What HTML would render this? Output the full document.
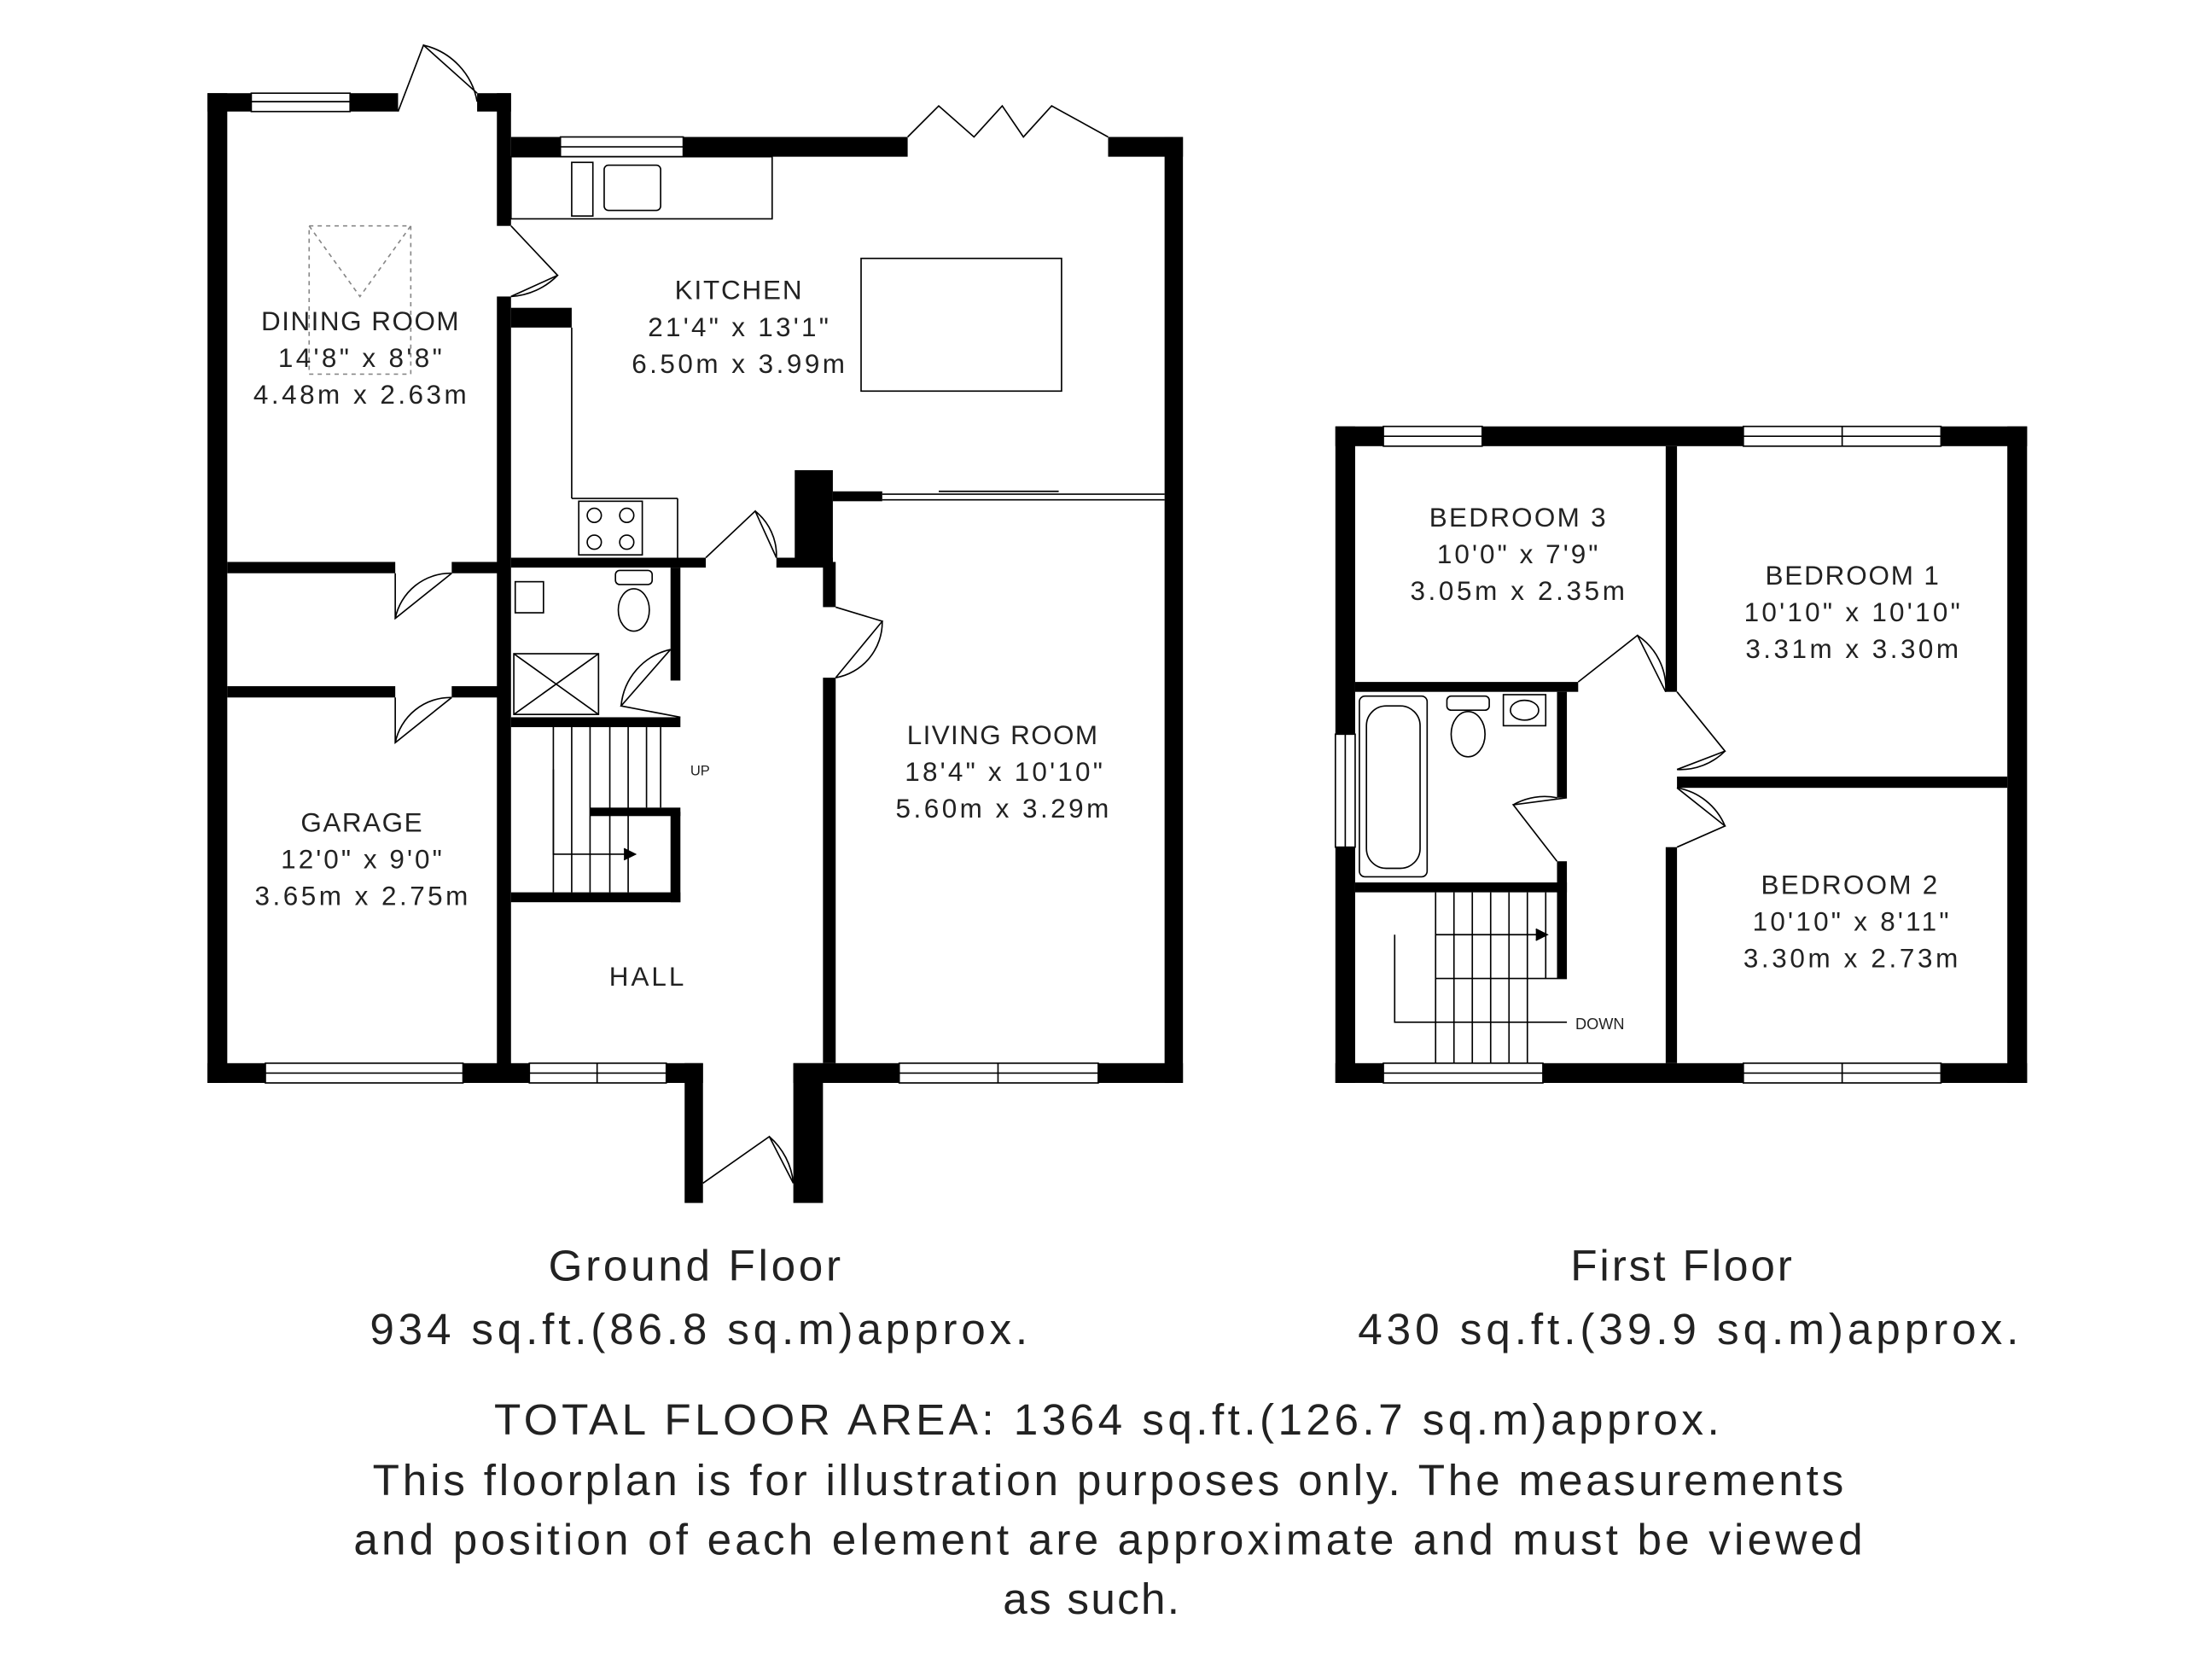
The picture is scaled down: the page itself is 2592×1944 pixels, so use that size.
<!DOCTYPE html>
<html><head><meta charset="utf-8"><style>
html,body{margin:0;padding:0;background:#fff;}
svg{display:block;}
text{font-family:"Liberation Sans",sans-serif;fill:#222;}
</style></head><body>
<svg width="2592" height="1944" viewBox="0 0 1567 1175" preserveAspectRatio="none" xmlns="http://www.w3.org/2000/svg">
<rect width="1567" height="1175" fill="#fff"/>
<g fill="#000">
<rect x="147" y="66" width="14" height="701"/>
<rect x="147" y="66" width="31" height="13"/>
<rect x="248" y="66" width="34" height="13"/>
<rect x="338" y="66" width="24" height="13"/>
<rect x="352" y="66" width="10" height="94"/>
<rect x="352" y="210" width="10" height="545"/>
<rect x="362" y="97" width="35" height="14"/>
<rect x="484" y="97" width="159" height="14"/>
<rect x="785" y="97" width="53" height="14"/>
<rect x="825" y="97" width="13" height="670"/>
<rect x="362" y="218" width="43" height="14"/>
<rect x="563" y="333" width="27" height="65"/>
<rect x="590" y="348" width="35" height="7"/>
<rect x="161" y="398" width="119" height="8"/>
<rect x="320" y="398" width="35" height="8"/>
<rect x="161" y="486" width="119" height="8"/>
<rect x="320" y="486" width="35" height="8"/>
<rect x="362" y="395" width="138" height="7"/>
<rect x="550" y="395" width="40" height="7"/>
<rect x="475" y="402" width="7" height="80"/>
<rect x="362" y="508" width="120" height="7"/>
<rect x="362" y="632" width="120" height="7"/>
<rect x="475" y="575" width="7" height="64"/>
<rect x="418" y="572" width="64" height="6"/>
<rect x="583" y="398" width="9" height="32"/>
<rect x="583" y="480" width="9" height="273"/>
<rect x="147" y="753" width="41" height="14"/>
<rect x="328" y="753" width="47" height="14"/>
<rect x="472" y="753" width="26" height="14"/>
<rect x="485" y="753" width="13" height="99"/>
<rect x="562" y="753" width="21" height="99"/>
<rect x="562" y="753" width="75" height="14"/>
<rect x="778" y="753" width="60" height="14"/>
<rect x="946" y="302" width="34" height="14"/>
<rect x="1050" y="302" width="185" height="14"/>
<rect x="1375" y="302" width="61" height="14"/>
<rect x="946" y="302" width="14" height="218"/>
<rect x="946" y="600" width="14" height="167"/>
<rect x="1422" y="302" width="14" height="465"/>
<rect x="946" y="753" width="34" height="14"/>
<rect x="1093" y="753" width="142" height="14"/>
<rect x="1375" y="753" width="61" height="14"/>
<rect x="1180" y="316" width="8" height="174"/>
<rect x="1180" y="600" width="8" height="153"/>
<rect x="1188" y="550" width="234" height="8"/>
<rect x="960" y="483" width="158" height="7"/>
<rect x="1103" y="490" width="7" height="75"/>
<rect x="1103" y="610" width="7" height="83"/>
<rect x="960" y="625" width="150" height="7"/>
</g>
<g fill="none" stroke="#000" stroke-width="1">
<rect x="178" y="66" width="70" height="13"/><line x1="178" y1="72" x2="248" y2="72"/>
<rect x="397" y="97" width="87" height="14"/><line x1="397" y1="104" x2="484" y2="104"/>
<rect x="188" y="753" width="140" height="14"/><line x1="188" y1="760" x2="328" y2="760"/>
<rect x="375" y="753" width="97" height="14"/><line x1="375" y1="760" x2="472" y2="760"/><line x1="423" y1="753" x2="423" y2="767"/>
<rect x="637" y="753" width="141" height="14"/><line x1="637" y1="760" x2="778" y2="760"/><line x1="707" y1="753" x2="707" y2="767"/>
<rect x="980" y="302" width="70" height="14"/><line x1="980" y1="309" x2="1050" y2="309"/>
<rect x="1235" y="302" width="140" height="14"/><line x1="1235" y1="309" x2="1375" y2="309"/><line x1="1305" y1="302" x2="1305" y2="316"/>
<rect x="980" y="753" width="113" height="14"/><line x1="980" y1="760" x2="1093" y2="760"/>
<rect x="1235" y="753" width="140" height="14"/><line x1="1235" y1="760" x2="1375" y2="760"/><line x1="1305" y1="753" x2="1305" y2="767"/>
<rect x="946" y="520" width="14" height="80"/><line x1="953" y1="520" x2="953" y2="600"/>
<line x1="625" y1="350" x2="825" y2="350"/><line x1="625" y1="354" x2="825" y2="354"/>
<line x1="665" y1="348" x2="750" y2="348"/>
<path d="M282 79 L300 32 L338 66"/><path d="M300 32 A50 50 0 0 1 338 72"/>
<path d="M362 160 L395 195 L362 210"/><path d="M395 195 A50 50 0 0 1 362 210"/>
<path d="M643 97 L665 75 L690 97 L710 75 L725 97 L745 75 L785 97"/>
<path d="M280 406 L280 438 L320 406"/><path d="M280 438 A40 40 0 0 1 320 406"/>
<path d="M280 494 L280 526 L320 494"/><path d="M280 526 A40 40 0 0 1 320 494"/>
<path d="M500 395 L535 362 L550 395"/><path d="M535 362 A40 40 0 0 1 550 395"/>
<path d="M475 460 L440 500 L482 508"/><path d="M440 500 A45 45 0 0 1 475 460"/>
<path d="M592 430 L625 440 L592 480"/><path d="M625 440 A40 40 0 0 1 592 480"/>
<path d="M498 838 L545 805 L562 838"/><path d="M545 805 A50 50 0 0 1 562 838"/>
<path d="M1118 483 L1160 450 L1180 490"/><path d="M1160 450 A45 45 0 0 1 1180 490"/>
<path d="M1188 490 L1222 532 L1188 545"/><path d="M1222 532 A45 45 0 0 1 1188 545"/>
<path d="M1188 600 L1222 585 L1188 558"/><path d="M1222 585 A45 45 0 0 0 1188 558"/>
<path d="M1110 565 L1072 570 L1103 610"/><path d="M1072 570 A45 45 0 0 1 1103 565"/>
<rect x="362" y="111" width="185" height="44"/>
<rect x="405" y="115" width="15" height="38"/>
<rect x="428" y="117" width="40" height="32" rx="3"/>
<line x1="405" y1="232" x2="405" y2="353"/><line x1="405" y1="353" x2="480" y2="353"/><line x1="480" y1="353" x2="480" y2="395"/>
<rect x="410" y="355" width="45" height="38"/>
<circle cx="421" cy="365" r="5"/><circle cx="444" cy="365" r="5"/><circle cx="421" cy="384" r="5"/><circle cx="444" cy="384" r="5"/>
<rect x="610" y="183" width="142" height="94"/>
<rect x="219" y="160" width="72" height="105" stroke-dasharray="3,3" stroke="#888"/>
<path d="M219 160 L255 210 L291 160" stroke="#888" stroke-dasharray="3,3"/>
<rect x="365" y="412" width="20" height="22"/>
<ellipse cx="449" cy="432" rx="11" ry="15"/><rect x="436" y="404" width="26" height="10" rx="3"/>
<rect x="364" y="463" width="60" height="43"/><path d="M364 463 L424 506 M424 463 L364 506"/>
<line x1="392" y1="515" x2="392" y2="632"/><line x1="405" y1="515" x2="405" y2="632"/><line x1="418" y1="515" x2="418" y2="632"/>
<line x1="432" y1="515" x2="432" y2="632"/><line x1="445" y1="515" x2="445" y2="632"/><line x1="458" y1="515" x2="458" y2="572"/><line x1="468" y1="515" x2="468" y2="572"/>
<path d="M392 545 L392 605 L450 605"/><path d="M442 601 L450 605 L442 609" fill="#000"/>
<rect x="963" y="493" width="48" height="128" rx="4"/><rect x="968" y="500" width="38" height="115" rx="14"/>
<rect x="1025" y="493" width="30" height="10" rx="3"/><ellipse cx="1040" cy="520" rx="12" ry="16"/>
<rect x="1065" y="492" width="30" height="22"/><ellipse cx="1080" cy="503" rx="10" ry="7"/>
<line x1="1017" y1="632" x2="1017" y2="753"/><line x1="1030" y1="632" x2="1030" y2="753"/><line x1="1043" y1="632" x2="1043" y2="753"/>
<line x1="1056" y1="632" x2="1056" y2="753"/><line x1="1069" y1="632" x2="1069" y2="753"/><line x1="1082" y1="632" x2="1082" y2="753"/><line x1="1095" y1="632" x2="1095" y2="693"/>
<line x1="1017" y1="693" x2="1110" y2="693"/>
<path d="M988 662 L988 724 L1110 724"/><path d="M1017 662 L1095 662"/><path d="M1088 658 L1096 662 L1088 666" fill="#000"/>
</g>
<g font-size="19" text-anchor="middle" lengthAdjust="spacingAndGlyphs">
<text x="255" y="234" textLength="140">DINING ROOM</text><text x="255" y="260" textLength="116">14'8" x 8'8"</text><text x="255" y="286" textLength="151">4.48m x 2.63m</text>
<text x="523" y="212" textLength="90">KITCHEN</text><text x="523" y="238" textLength="128">21'4" x 13'1"</text><text x="523" y="264" textLength="151">6.50m x 3.99m</text>
<text x="256" y="589" textLength="86">GARAGE</text><text x="256" y="615" textLength="114">12'0" x 9'0"</text><text x="256" y="641" textLength="151">3.65m x 2.75m</text>
<text x="710" y="527" textLength="135">LIVING ROOM</text><text x="711" y="553" textLength="140">18'4" x 10'10"</text><text x="710" y="579" textLength="151">5.60m x 3.29m</text>
<text x="458" y="698" textLength="53">HALL</text>
<text x="1075" y="373" textLength="125">BEDROOM 3</text><text x="1075" y="399" textLength="114">10'0" x 7'9"</text><text x="1075" y="425" textLength="152">3.05m x 2.35m</text>
<text x="1312" y="414" textLength="123">BEDROOM 1</text><text x="1312" y="440" textLength="153">10'10" x 10'10"</text><text x="1312" y="466" textLength="151">3.31m x 3.30m</text>
<text x="1310" y="633" textLength="125">BEDROOM 2</text><text x="1311" y="659" textLength="139">10'10" x 8'11"</text><text x="1311" y="685" textLength="152">3.30m x 2.73m</text>
</g>
<text x="489" y="549" font-size="10">UP</text>
<text x="1116" y="729" font-size="11">DOWN</text>
<g font-size="31" text-anchor="middle" fill="#222">
<text x="492" y="907" textLength="207">Ground Floor</text><text x="495" y="952" textLength="466">934 sq.ft.(86.8 sq.m)approx.</text>
<text x="1191" y="907" textLength="157">First Floor</text><text x="1196" y="952" textLength="468">430 sq.ft.(39.9 sq.m)approx.</text>
<text x="784" y="1016" textLength="868">TOTAL FLOOR AREA: 1364 sq.ft.(126.7 sq.m)approx.</text>
<text x="785" y="1059" textLength="1042">This floorplan is for illustration purposes only. The measurements</text>
<text x="785" y="1101" textLength="1069">and position of each element are approximate and must be viewed</text>
<text x="773" y="1143" textLength="125">as such.</text>
</g>
</svg>
</body></html>
